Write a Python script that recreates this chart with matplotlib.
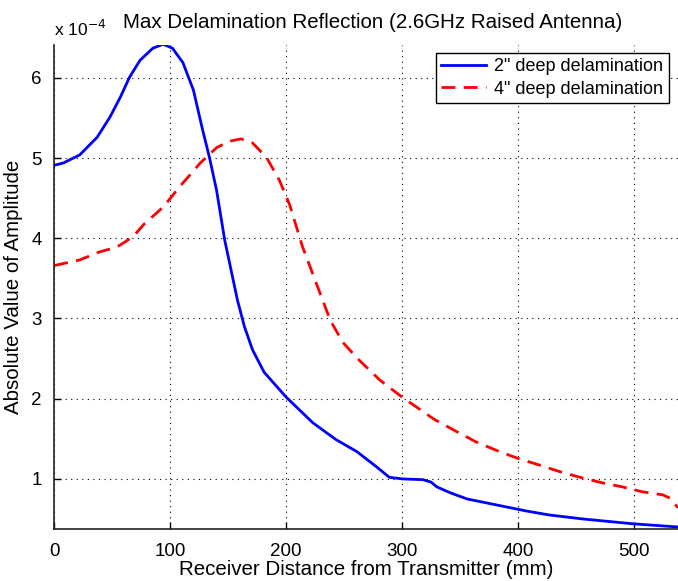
import matplotlib
matplotlib.use('Agg')
import matplotlib.pyplot as plt

plt.rcParams['font.family'] = ['Liberation Sans', 'DejaVu Sans']

# Receiver distance (mm) and amplitude (x 1e-4)
dist_2in = [0, 8, 22, 37, 48, 57, 65, 74, 85, 94, 102, 111, 120, 128, 134,
            140, 147, 158, 164, 171, 181, 200, 223, 243, 261, 278, 289, 300,
            318, 325, 330, 341, 356, 373, 390, 407, 427, 456, 499, 538]
amp_2in = [4.91, 4.94, 5.04, 5.26, 5.51, 5.76, 6.01, 6.22, 6.37, 6.42, 6.37,
           6.19, 5.85, 5.35, 5.00, 4.60, 3.98, 3.23, 2.90, 2.61, 2.33, 2.02,
           1.70, 1.49, 1.34, 1.15, 1.02, 1.00, 0.99, 0.96, 0.90, 0.83, 0.75,
           0.70, 0.65, 0.60, 0.55, 0.50, 0.44, 0.40]

dist_4in = [0, 22, 39, 54, 68, 77, 94, 108, 126, 140, 151, 161, 171, 183,
            194, 203, 214, 226, 238, 249, 263, 281, 300, 313, 328, 347, 364,
            384, 401, 419, 436, 456, 473, 490, 507, 525, 531, 538]
amp_4in = [3.66, 3.73, 3.83, 3.89, 4.02, 4.17, 4.39, 4.64, 4.94, 5.13, 5.21,
           5.24, 5.19, 5.01, 4.73, 4.42, 3.90, 3.44, 2.98, 2.70, 2.48, 2.23,
           2.02, 1.89, 1.74, 1.59, 1.46, 1.34, 1.25, 1.17, 1.09, 1.01, 0.95,
           0.90, 0.84, 0.80, 0.76, 0.64]

labels = ['2" deep delamination', '4" deep delamination']

fig = plt.figure(figsize=(6.78, 5.81), dpi=100)
ax = fig.add_axes([0.080, 0.0895, 0.920, 0.833])

ax.plot(dist_2in, amp_2in, color='#0000ff', lw=2.0, label=labels[0])
ax.plot(dist_4in, amp_4in, color='#ff0000', lw=2.0, ls=(0, (5, 3)), label=labels[1])

ax.set_xlim(0, 538)
ax.set_ylim(0.375, 6.41)
ax.set_xticks([0, 100, 200, 300, 400, 500])
ax.set_yticks([1, 2, 3, 4, 5, 6])
ax.grid(True, color='black', ls=(0, (1, 4)), lw=0.8)
ax.tick_params(direction='in', length=5, width=1, labelsize=13.5)
ax.tick_params(axis='x', pad=10)
ax.tick_params(axis='y', pad=9)
for s in ['top', 'right']:
    ax.spines[s].set_visible(False)
for s in ['left', 'bottom']:
    ax.spines[s].set_linewidth(1.2)
    ax.spines[s].set_color('#222222')

ax.set_xlabel('Receiver Distance from Transmitter (mm)', fontsize=14.8, labelpad=0)
ax.set_ylabel('Absolute Value of Amplitude', fontsize=14.8, labelpad=6)
ax.set_title('Max Delamination Reflection (2.6GHz Raised Antenna)', fontsize=14.8,
             pad=12, x=0.51)
ax.text(0.0, 1.012, r'x 10$^{-4}$', transform=ax.transAxes, fontsize=12.5,
        ha='left', va='bottom')

leg = ax.legend(loc='upper right', bbox_to_anchor=(0.985, 0.984), fontsize=13,
                frameon=True, fancybox=False, framealpha=1, edgecolor='black',
                handlelength=2.5, handletextpad=0.45, borderpad=0.3,
                labelspacing=0.3, borderaxespad=0)
leg.get_frame().set_linewidth(1.0)

fig.savefig('out.png', dpi=100)
